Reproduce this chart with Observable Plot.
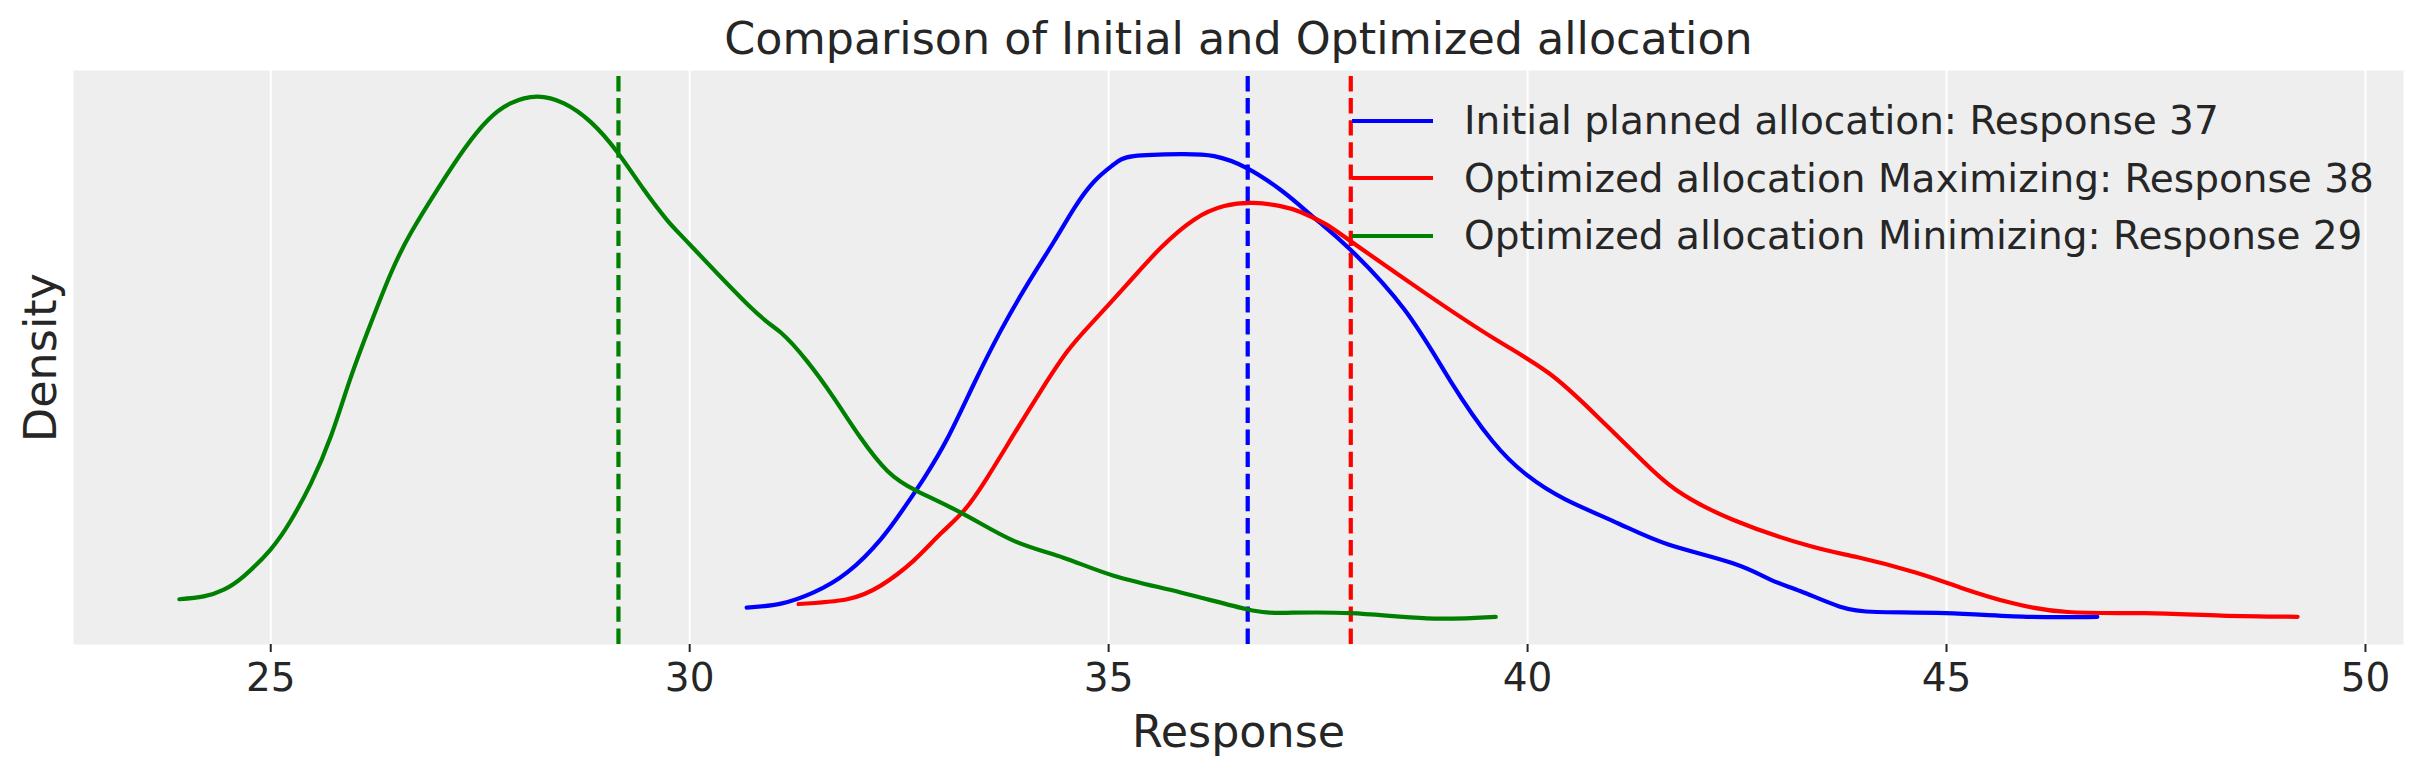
<!DOCTYPE html>
<html>
<head>
<meta charset="utf-8">
<script src="https://cdn.jsdelivr.net/npm/d3@7"></script>
<script src="https://cdn.jsdelivr.net/npm/@observablehq/plot@0.6"></script>
<style>
  html, body { margin: 0; padding: 0; background: white; }
  #wrap { position: relative; width: 2423px; height: 773px; font-family: "DejaVu Sans", sans-serif; color: #262626; }
  #legend { position: absolute; left: 1352px; top: 92px; font-size: 39px; }
  .row { display: flex; align-items: center; height: 57.5px; white-space: nowrap; }
  .sw { width: 81px; height: 4.2px; margin-right: 31px; }
</style>
</head>
<body>
<div id="wrap"><div id="legend"></div></div>
<script>
const titleText = "Comparison of Initial and Optimized allocation";
const xLabel = "Response";
const yLabel = "Density";
const xTicks = [25, 30, 35, 40, 45, 50];

const seriesNames = [
  "Initial planned allocation: Response 37",
  "Optimized allocation Maximizing: Response 38",
  "Optimized allocation Minimizing: Response 29"
];
const seriesColors = ["blue", "red", "green"];
const meanResponse = [36.66, 37.89, 29.15];

// KDE curves (x = response, d = density, arbitrary units)
const initialX = [30.68, 31.09, 31.48, 31.88, 32.28, 32.56, 32.80, 33.08, 33.39, 33.71, 34.03, 34.35, 34.59, 34.83, 35.06, 35.30, 35.86, 36.26, 36.65, 37.05, 37.29, 37.53, 37.89, 38.53, 39.08, 39.58, 39.99, 40.45, 41.09, 41.68, 42.45, 42.91, 43.26, 43.72, 44.17, 44.99, 46.00, 46.80];
const initialD = [0.0028, 0.0038, 0.0066, 0.0116, 0.0199, 0.0278, 0.0353, 0.0453, 0.0587, 0.0720, 0.0837, 0.0945, 0.1028, 0.1095, 0.1137, 0.1158, 0.1163, 0.1158, 0.1128, 0.1074, 0.1033, 0.0990, 0.0923, 0.0774, 0.0595, 0.0445, 0.0360, 0.0299, 0.0238, 0.0186, 0.0139, 0.0097, 0.0069, 0.0031, 0.0017, 0.0014, 0.0005, 0.0005];

const maxX = [31.30, 31.88, 32.28, 32.67, 32.99, 33.27, 33.55, 33.87, 34.19, 34.51, 34.82, 35.22, 35.62, 36.02, 36.38, 36.73, 37.05, 37.29, 37.58, 37.89, 38.80, 39.62, 40.26, 40.81, 41.36, 41.77, 42.45, 43.37, 43.94, 44.63, 45.17, 45.77, 46.45, 47.37, 48.28, 49.19];
const maxD = [0.0037, 0.0049, 0.0083, 0.0145, 0.0212, 0.0270, 0.0353, 0.0462, 0.0570, 0.0670, 0.0745, 0.0837, 0.0928, 0.0999, 0.1033, 0.1041, 0.1033, 0.1018, 0.0989, 0.0945, 0.0812, 0.0699, 0.0614, 0.0511, 0.0398, 0.0323, 0.0248, 0.0182, 0.0154, 0.0116, 0.0078, 0.0040, 0.0017, 0.0014, 0.0008, 0.0005];

const minX = [23.91, 24.20, 24.44, 24.68, 25.00, 25.24, 25.48, 25.72, 25.95, 26.19, 26.43, 26.67, 26.99, 27.31, 27.59, 27.86, 28.18, 28.50, 28.82, 29.14, 29.45, 29.73, 30.01, 30.73, 31.09, 31.40, 31.72, 32.04, 32.36, 32.71, 33.27, 33.87, 34.46, 35.06, 35.86, 36.65, 37.12, 37.89, 38.80, 39.62];
const minD = [0.0049, 0.0056, 0.0073, 0.0107, 0.0174, 0.0246, 0.0339, 0.0458, 0.0601, 0.0737, 0.0863, 0.0965, 0.1075, 0.1176, 0.1248, 0.1290, 0.1307, 0.1290, 0.1243, 0.1167, 0.1075, 0.0998, 0.0935, 0.0779, 0.0716, 0.0645, 0.0553, 0.0453, 0.0370, 0.0320, 0.0262, 0.0195, 0.0153, 0.0108, 0.0066, 0.0024, 0.0015, 0.0014, 0.0001, 0.0005];

const curveX = [initialX, maxX, minX];
const curveD = [initialD, maxD, minD];

const rows = [];
seriesNames.forEach((s, i) => curveX[i].forEach((x, j) => rows.push({series: s, x, d: curveD[i][j]})));
const means = seriesNames.map((s, i) => ({series: s, mean: meanResponse[i]}));

// matplotlib-style 5% margins around the data extent
const pad = ([a, b]) => [a - 0.05 * (b - a), b + 0.05 * (b - a)];
const xDomain = pad(d3.extent(rows, r => r.x));
const yDomain = pad(d3.extent(rows, r => r.d));

const chart = Plot.plot({
  width: 2423,
  height: 773,
  marginLeft: 73,
  marginRight: 20,
  marginTop: 70,
  marginBottom: 129,
  style: {fontFamily: "DejaVu Sans", fontSize: "39px", color: "#262626", background: "transparent", overflow: "visible"},
  x: {domain: xDomain},
  y: {domain: yDomain, axis: null},
  color: {domain: seriesNames, range: seriesColors},
  marks: [
    Plot.frame({fill: "#eeeeee", stroke: "none"}),
    Plot.gridX(xTicks, {stroke: "white", strokeOpacity: 1, strokeWidth: 2}),
    Plot.axisX(xTicks, {tickSize: 8, tickPadding: 11, fontSize: 39, label: null, strokeWidth: 2}),
    Plot.ruleX(means, {x: "mean", stroke: "series", strokeWidth: 4.2, strokeDasharray: "15.4 6.7", strokeDashoffset: 16.1}),
    Plot.line(rows, {x: "x", y: "d", z: "series", stroke: "series", strokeWidth: 4.2, curve: "natural", strokeLinecap: "round"}),
    Plot.text([titleText], {frameAnchor: "top", dy: -17, lineAnchor: "bottom", fontSize: 44.4, text: d => d}),
    Plot.text([xLabel], {frameAnchor: "bottom", dy: 102, lineAnchor: "bottom", fontSize: 44.4, text: d => d}),
    Plot.text([yLabel], {frameAnchor: "left", dx: -18, rotate: -90, lineAnchor: "bottom", textAnchor: "middle", fontSize: 44.4, text: d => d})
  ]
});

const wrap = document.getElementById("wrap");
wrap.insertBefore(chart, wrap.firstChild);

const legend = document.getElementById("legend");
seriesNames.forEach((s, i) => {
  const row = document.createElement("div");
  row.className = "row";
  const sw = document.createElement("div");
  sw.className = "sw";
  sw.style.background = seriesColors[i];
  const t = document.createElement("span");
  t.textContent = s;
  row.appendChild(sw);
  row.appendChild(t);
  legend.appendChild(row);
});
</script>
</body>
</html>
